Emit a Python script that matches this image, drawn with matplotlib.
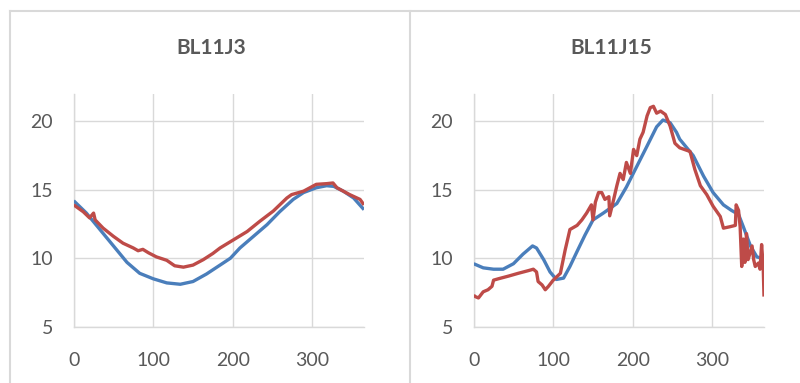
import matplotlib
matplotlib.use("Agg")
import matplotlib.pyplot as plt
from matplotlib.lines import Line2D

plt.rcParams['font.family'] = ['Lato', 'DejaVu Sans']

# BL11J3 - model (blue) and measured (red)
j3_blue_x = [0, 16, 33, 50, 67, 83, 100, 117, 134, 150, 167, 184, 197, 209, 226, 243, 259, 276,
             289, 305, 318, 327, 339, 352, 365]
j3_blue_y = [14.2, 13.3, 12.1, 10.9, 9.7, 8.9, 8.5, 8.2, 8.1, 8.3, 8.85, 9.5, 10.0, 10.75, 11.6,
             12.45, 13.4, 14.3, 14.8, 15.15, 15.3, 15.25, 14.9, 14.4, 13.55]
j3_red_x = [0, 12, 20, 25, 27, 37, 50, 62, 75, 81, 87, 94, 104, 117, 127, 138, 150, 163, 175,
            184, 201, 218, 234, 251, 268, 274, 289, 305, 318, 326, 331, 347, 360, 365]
j3_red_y = [13.9, 13.4, 12.95, 13.3, 12.8, 12.2, 11.6, 11.1, 10.75, 10.55, 10.65, 10.4, 10.1, 9.85,
            9.45, 9.35, 9.5, 9.9, 10.35, 10.75, 11.35, 11.95, 12.7, 13.45, 14.4, 14.65, 14.9, 15.4,
            15.45, 15.5, 15.15, 14.65, 14.3, 13.9]

# BL11J15 - model (blue) and measured (red)
j15_blue_x = [0, 12, 25, 37, 50, 62, 74, 79, 88, 96, 104, 113, 121, 130, 140, 150, 163, 180, 192,
              205, 218, 230, 238, 247, 255, 259, 276, 289, 301, 314, 324, 333, 339, 348, 356, 362, 365]
j15_blue_y = [9.6, 9.3, 9.2, 9.2, 9.6, 10.3, 10.9, 10.75, 9.9, 9.0, 8.45, 8.55, 9.4, 10.5, 11.7,
              12.8, 13.3, 14.0, 15.2, 16.7, 18.2, 19.6, 20.1, 19.9, 19.2, 18.7, 17.5, 16.0, 14.8,
              13.9, 13.5, 13.2, 12.3, 10.9, 10.1, 10.0, 10.0]
j15_red_x = [0, 2, 6, 12, 18, 23, 25, 31, 44, 56, 69, 75, 79, 81, 86, 90, 94, 100, 109, 115, 121,
             130, 136, 142, 148, 150, 153, 157, 161, 165, 170, 171, 176, 180, 184, 188, 192, 197,
             201, 205, 209, 213, 218, 222, 226, 230, 235, 241, 247, 253, 259, 272, 278, 285, 293,
             301, 310, 314, 322, 329, 330, 333, 335, 337, 339, 341, 343, 345, 350, 352, 354, 358,
             360, 362, 364, 365]
j15_red_y = [7.3, 7.2, 7.1, 7.55, 7.7, 7.95, 8.4, 8.5, 8.7, 8.9, 9.1, 9.2, 9.0, 8.3, 8.05, 7.7,
             7.95, 8.4, 8.9, 10.6, 12.1, 12.4, 12.8, 13.3, 13.9, 12.8, 14.1, 14.8, 14.8, 14.3,
             14.5, 13.1, 14.3, 15.3, 16.2, 15.75, 17.0, 16.2, 17.95, 17.5, 18.7, 19.2, 20.4, 21.0,
             21.1, 20.6, 20.75, 20.5, 19.65, 18.4, 18.07, 17.8, 16.5, 15.3, 14.65, 13.8, 13.05,
             12.2, 12.3, 12.4, 13.9, 13.5, 12.3, 9.4, 11.4, 9.7, 11.8, 9.9, 10.9, 9.9, 9.4, 9.65,
             9.2, 11.0, 9.4, 7.2]

titles = ['BL11J3', 'BL11J15']
x_ticks = [0, 100, 200, 300]
y_ticks = [5, 10, 15, 20]

blue = '#4a7ebb'
red = '#be4b48'
grid_col = '#d9d9d9'
text_col = '#595959'

fig = plt.figure(figsize=(8, 3.83), dpi=100)

# chart frames
frame_kw = dict(color=grid_col, lw=1.5, transform=fig.transFigure)
fig.add_artist(Line2D([0.0125, 1.0], [0.971, 0.971], **frame_kw))
fig.add_artist(Line2D([0.0125, 0.0125], [0.0, 0.971], **frame_kw))
fig.add_artist(Line2D([0.5125, 0.5125], [0.0, 0.971], **frame_kw))

panels = [(j3_blue_x, j3_blue_y, j3_red_x, j3_red_y),
          (j15_blue_x, j15_blue_y, j15_red_x, j15_red_y)]

for i, (bx, by, rx, ry) in enumerate(panels):
    ax = fig.add_axes([0.0921 + i * 0.5, 0.147, 0.3629, 0.6076])
    ax.plot(bx, by, color=blue, lw=2.4, solid_capstyle='butt', zorder=3)
    ax.plot(rx, ry, color=red, lw=2.4, solid_capstyle='butt', zorder=4)
    ax.set_xlim(0, 365)
    ax.set_ylim(5, 22)
    ax.set_xticks(x_ticks)
    ax.set_yticks(y_ticks)
    ax.grid(True, color=grid_col, lw=1)
    ax.set_axisbelow(True)
    for side in ('top', 'right'):
        ax.spines[side].set_visible(False)
    for side in ('left', 'bottom'):
        ax.spines[side].set_color(grid_col)
        ax.spines[side].set_linewidth(1)
    ax.tick_params(length=0, labelsize=14, labelcolor=text_col)
    ax.tick_params(axis='y', pad=15)
    ax.tick_params(axis='x', pad=18)
    fig.text(0.0921 + i * 0.5 + 0.3629 / 2 - 0.01, 0.875, titles[i], ha='center', va='center',
             fontsize=15, fontweight='bold', color=text_col)

fig.savefig('out.png', dpi=100)
